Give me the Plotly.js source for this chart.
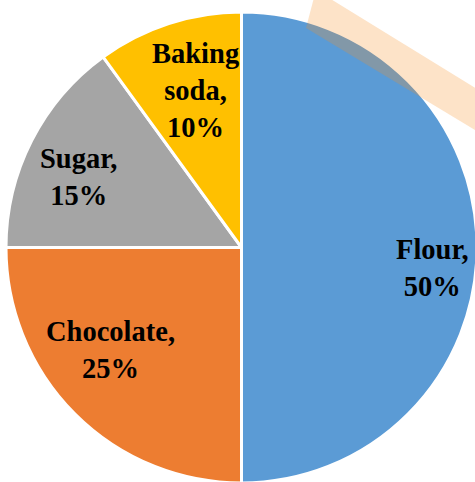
<!DOCTYPE html>
<html>
<head>
<meta charset="utf-8">
<script src="https://cdn.plot.ly/plotly-3.0.1.min.js"></script>
<style>
html,body{margin:0;padding:0;overflow:hidden;background:#fff;}
#chart{width:500px;height:500px;}
</style>
</head>
<body>
<div id="chart"></div>
<script>
const categories = ["Flour", "Chocolate", "Sugar", "Baking soda"];
const shares = [50, 25, 15, 10];
const colors = ["#5B9BD5", "#ED7D31", "#A5A5A5", "#FFC000"];
// label block centres (pixel positions in the 500x500 canvas)
const labelPos = [[432, 268], [110, 350], [78, 177], [195, 91]];
const labelText = ["Flour,<br>50%", "Chocolate,<br>25%", "Sugar,<br>15%", "Baking<br>soda,<br>10%"];

const W = 500, H = 500;
const px = x => x / W;
const py = y => 1 - y / H;

const trace = {
  type: "pie",
  labels: categories,
  values: shares,
  sort: false,
  direction: "clockwise",
  rotation: 0,
  marker: {colors: colors, line: {color: "#ffffff", width: 3}},
  textinfo: "none",
  hoverinfo: "none",
  showlegend: false,
  domain: {x: [px(6), px(477)], y: [py(483), py(12)]}
};

const annotations = categories.map((c, i) => ({
  xref: "paper", yref: "paper",
  x: px(labelPos[i][0]), y: py(labelPos[i][1]),
  xanchor: "center", yanchor: "middle",
  text: labelText[i],
  showarrow: false,
  align: "center",
  font: {family: "Liberation Serif, Times New Roman, serif", size: 28.5, color: "#000000", weight: 700}
}));

const band = [[316, -10], [500, 103], [500, 145], [306, 28]];
const path = "M " + band.map(p => px(p[0]) + "," + py(p[1])).join(" L ") + " Z";

const layout = {
  width: W, height: H,
  margin: {l: 0, r: 0, t: 0, b: 0, pad: 0},
  paper_bgcolor: "#ffffff",
  plot_bgcolor: "#ffffff",
  showlegend: false,
  annotations: annotations,
  shapes: [{
    type: "path", xref: "paper", yref: "paper", path: path,
    fillcolor: "rgb(247,143,35)", opacity: 0.25, line: {width: 0}, layer: "above"
  }]
};

Plotly.newPlot("chart", [trace], layout, {staticPlot: true, displayModeBar: false});
</script>
</body>
</html>
